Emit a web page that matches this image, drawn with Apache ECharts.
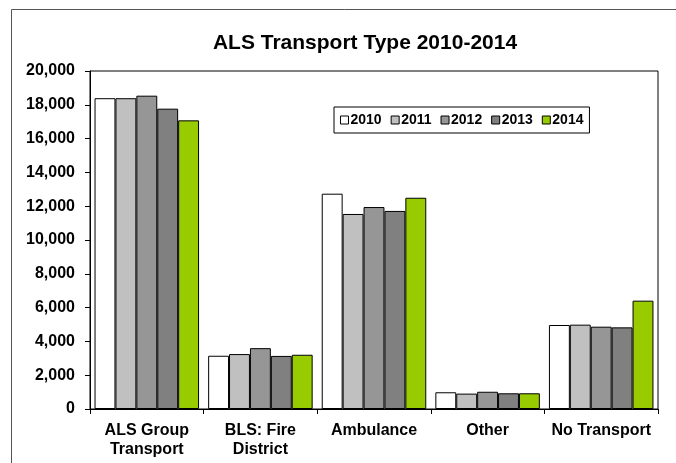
<!DOCTYPE html>
<html>
<head>
<meta charset="utf-8">
<script src="https://cdn.jsdelivr.net/npm/echarts@6/dist/echarts.min.js"></script>
<style>
html,body{margin:0;padding:0;background:#fff;}
#chart{width:676px;height:463px;}
</style>
</head>
<body>
<div id="chart"></div>
<script>
const categories = ['ALS Group\nTransport', 'BLS: Fire\nDistrict', 'Ambulance', 'Other', 'No Transport'];
const years = ['2010', '2011', '2012', '2013', '2014'];
const values2010 = [18390, 3150, 12740, 990, 4970];
const values2011 = [18390, 3250, 11540, 910, 4990];
const values2012 = [18540, 3600, 11950, 1020, 4870];
const values2013 = [17770, 3140, 11720, 930, 4830];
const values2014 = [17080, 3210, 12500, 930, 6410];
const yTicks = { min: 0, max: 20000, interval: 2000 };
const colors = ['#FFFFFF', '#C0C0C0', '#969696', '#808080', '#99CC00'];

const allValues = [values2010, values2011, values2012, values2013, values2014];
const FONT = 'Arial, "Liberation Sans", sans-serif';

const chart = echarts.init(document.getElementById('chart'), null, { renderer: 'canvas' });
chart.setOption({
  animation: false,
  backgroundColor: '#fff',
  graphic: [{
    type: 'rect',
    shape: { x: 11.5, y: 9.5, width: 800, height: 600 },
    style: { fill: 'none', stroke: '#555', lineWidth: 1 },
    silent: true, z: -1
  }],
  title: {
    text: 'ALS Transport Type 2010-2014',
    left: 360, top: 28, textAlign: 'center',
    textStyle: { fontFamily: FONT, fontSize: 21, fontWeight: 'bold', color: '#000' }
  },
  legend: {
    data: years,
    left: 334, top: 107,
    orient: 'horizontal',
    itemWidth: 8, itemHeight: 8, itemGap: 9,
    padding: [6, 6, 6, 6],
    borderColor: '#000', borderWidth: 1,
    backgroundColor: '#fff',
    icon: 'rect',
    itemStyle: { borderColor: '#000', borderWidth: 1 },
    textStyle: { fontFamily: FONT, fontSize: 14, fontWeight: 'bold', color: '#000', padding: [0, 0, 0, -3] }
  },
  grid: {
    left: 90, top: 71, right: 18, bottom: 54,
    show: true, borderColor: '#000', borderWidth: 1,
    containLabel: false
  },
  xAxis: {
    type: 'category',
    data: categories,
    axisLine: { lineStyle: { color: '#000', width: 1 } },
    axisTick: { show: true, length: 5, lineStyle: { color: '#000' } },
    axisLabel: {
      margin: 12, color: '#000', fontFamily: FONT, fontSize: 16, fontWeight: 'bold',
      lineHeight: 19, interval: 0
    }
  },
  yAxis: {
    type: 'value',
    min: yTicks.min, max: yTicks.max, interval: yTicks.interval,
    axisLine: { show: true, lineStyle: { color: '#000', width: 1 } },
    axisTick: { show: true, length: 5, lineStyle: { color: '#000' } },
    splitLine: { show: false },
    axisLabel: {
      margin: 15, color: '#000', fontFamily: FONT, fontSize: 16, fontWeight: 'bold',
      formatter: v => v.toLocaleString('en-US')
    }
  },
  series: years.map((y, i) => ({
    name: y,
    type: 'bar',
    data: allValues[i],
    barGap: '0%',
    barCategoryGap: '8%',
    itemStyle: { color: colors[i], borderColor: '#000', borderWidth: 1 }
  }))
});
</script>
</body>
</html>
